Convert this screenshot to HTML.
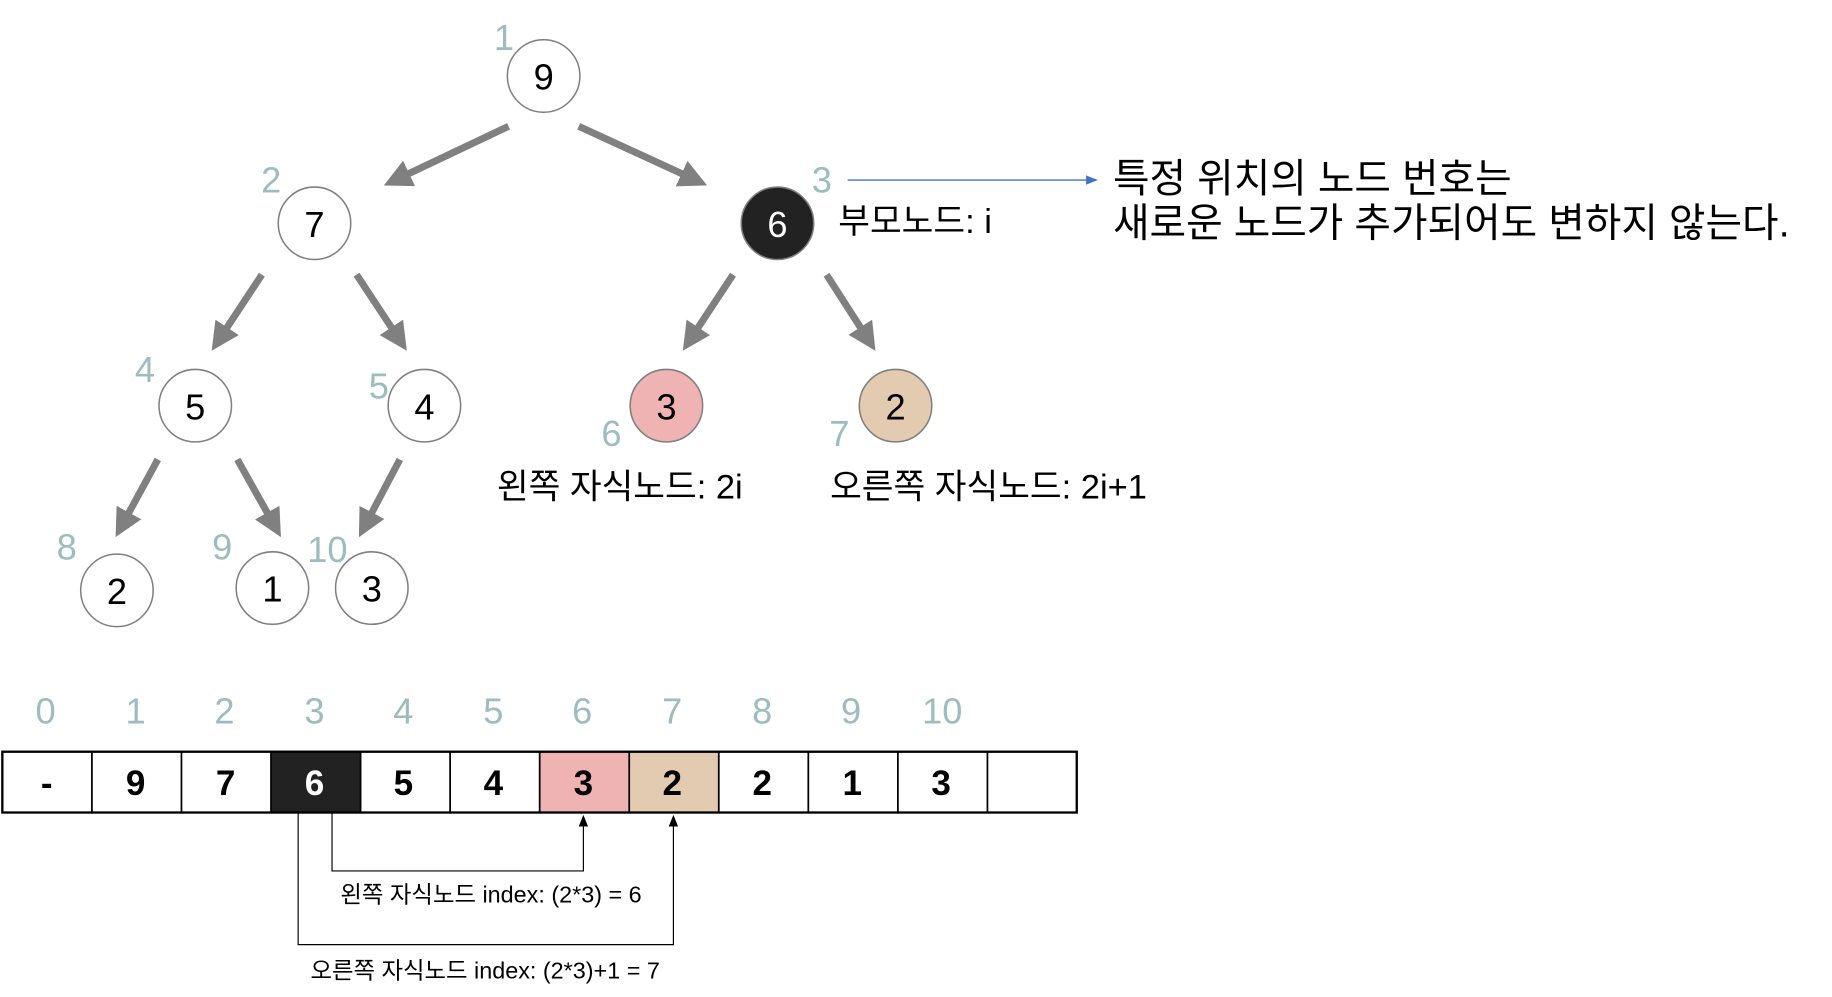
<!DOCTYPE html>
<html><head><meta charset="utf-8"><style>
html,body{margin:0;padding:0;background:#fff;width:1832px;height:997px;overflow:hidden}
svg{display:block}
text{font-family:"Liberation Sans","Noto Sans CJK KR","NanumGothic",sans-serif}
.idx{fill:#9dbcc0;font-size:31px;text-anchor:middle;dominant-baseline:central}
.nv{font-size:31px;text-anchor:middle;dominant-baseline:central}
.av{font-size:30px;font-weight:bold;text-anchor:middle;dominant-baseline:central}
.lbl{font-size:29.5px;dominant-baseline:central}
</style></head><body>
<svg width="1832" height="997" viewBox="0 0 1567 852.8" xmlns="http://www.w3.org/2000/svg">
<defs>
<marker id="ga" markerWidth="4" markerHeight="4" refX="2.2" refY="2" orient="auto" markerUnits="strokeWidth"><path d="M0,0 L4,2 L0,4 z" fill="#808080"/></marker>
<marker id="ba" markerWidth="10" markerHeight="10" refX="9" refY="5" orient="auto" markerUnits="userSpaceOnUse"><path d="M0,1 L10,5 L0,9 z" fill="#4472c4"/></marker>
</defs>
<g stroke="#808080" stroke-width="6" marker-end="url(#ga)">
<line x1="435" y1="108" x2="338" y2="154"/>
<line x1="495" y1="108" x2="595" y2="154"/>
<line x1="224" y1="235" x2="187" y2="291"/>
<line x1="305" y1="235" x2="342" y2="291"/>
<line x1="627" y1="235" x2="590" y2="291"/>
<line x1="707" y1="235" x2="743" y2="291"/>
<line x1="135" y1="393" x2="104" y2="450"/>
<line x1="203" y1="393" x2="235" y2="450"/>
<line x1="342" y1="393" x2="312" y2="450"/>
</g>
<g stroke="#7f7f7f" stroke-width="1.3">
<circle cx="465" cy="65" r="31" fill="#fff"/>
<circle cx="269" cy="191" r="31" fill="#fff"/>
<circle cx="665" cy="191" r="31" fill="#222"/>
<circle cx="167" cy="347" r="31" fill="#fff"/>
<circle cx="363" cy="347" r="31" fill="#fff"/>
<circle cx="570" cy="347" r="31" fill="#f0b3b3"/>
<circle cx="766" cy="347" r="31" fill="#e2cbb0"/>
<circle cx="100" cy="505" r="31" fill="#fff"/>
<circle cx="233" cy="503" r="31" fill="#fff"/>
<circle cx="318" cy="503" r="31" fill="#fff"/>
</g>
<text class="nv" x="465" y="66">9</text>
<text class="nv" x="269" y="192">7</text>
<text class="nv" x="665" y="192" fill="#fff">6</text>
<text class="nv" x="167" y="348">5</text>
<text class="nv" x="363" y="348">4</text>
<text class="nv" x="570" y="348">3</text>
<text class="nv" x="766" y="348">2</text>
<text class="nv" x="100" y="506">2</text>
<text class="nv" x="233" y="504">1</text>
<text class="nv" x="318" y="504">3</text>
<text class="idx" x="431" y="32">1</text>
<text class="idx" x="232" y="154">2</text>
<text class="idx" x="703" y="154">3</text>
<text class="idx" x="124" y="316">4</text>
<text class="idx" x="324" y="330">5</text>
<text class="idx" x="523" y="371">6</text>
<text class="idx" x="718" y="371">7</text>
<text class="idx" x="57" y="468">8</text>
<text class="idx" x="190" y="468">9</text>
<text class="idx" x="280" y="470">10</text>
<line x1="725" y1="154" x2="938" y2="154" stroke="#4472c4" stroke-width="1.2" marker-end="url(#ba)"/>
<text x="952" y="153" style="font-size:34px;dominant-baseline:central">특정 위치의 노드 번호는</text>
<text x="952" y="191" style="font-size:34px;dominant-baseline:central">새로운 노드가 추가되어도 변하지 않는다.</text>
<text class="lbl" x="717" y="190">부모노드: i</text>
<text class="lbl" x="425" y="417">왼쪽 자식노드: 2i</text>
<text class="lbl" x="710" y="417">오른쪽 자식노드: 2i+1</text>
<g>
<rect x="231.5" y="643" width="76.6" height="52" fill="#222"/>
<rect x="461.3" y="643" width="76.6" height="52" fill="#f0b3b3"/>
<rect x="537.9" y="643" width="76.6" height="52" fill="#e2cbb0"/>
<rect x="2" y="643" width="919" height="52" fill="none" stroke="#000" stroke-width="2"/>
<g stroke="#000" stroke-width="1.5">
<line x1="78.6" y1="643" x2="78.6" y2="695"/><line x1="155.2" y1="643" x2="155.2" y2="695"/>
<line x1="231.8" y1="643" x2="231.8" y2="695"/><line x1="308.4" y1="643" x2="308.4" y2="695"/>
<line x1="385" y1="643" x2="385" y2="695"/><line x1="461.6" y1="643" x2="461.6" y2="695"/>
<line x1="538.2" y1="643" x2="538.2" y2="695"/><line x1="614.8" y1="643" x2="614.8" y2="695"/>
<line x1="691.4" y1="643" x2="691.4" y2="695"/><line x1="768" y1="643" x2="768" y2="695"/>
<line x1="844.6" y1="643" x2="844.6" y2="695"/>
</g>
<text class="av" x="40" y="670">-</text>
<text class="av" x="116" y="670">9</text>
<text class="av" x="193" y="670">7</text>
<text class="av" x="269" y="670" fill="#fff">6</text>
<text class="av" x="345" y="670">5</text>
<text class="av" x="422" y="670">4</text>
<text class="av" x="499" y="670">3</text>
<text class="av" x="575" y="670">2</text>
<text class="av" x="652" y="670">2</text>
<text class="av" x="729" y="670">1</text>
<text class="av" x="805" y="670">3</text>
<text class="idx" x="39" y="608">0</text>
<text class="idx" x="116" y="608">1</text>
<text class="idx" x="192" y="608">2</text>
<text class="idx" x="269" y="608">3</text>
<text class="idx" x="345" y="608">4</text>
<text class="idx" x="422" y="608">5</text>
<text class="idx" x="498" y="608">6</text>
<text class="idx" x="575" y="608">7</text>
<text class="idx" x="652" y="608">8</text>
<text class="idx" x="728" y="608">9</text>
<text class="idx" x="806" y="608">10</text>
</g>
<polyline points="284,695 284,745 499,745 499,705" fill="none" stroke="#000" stroke-width="1"/>
<polygon points="495,707 499,697 503,707" fill="#000"/>
<polyline points="255,695 255,808 576,808 576,705" fill="none" stroke="#000" stroke-width="1"/>
<polygon points="572,707 576,697 580,707" fill="#000"/>
<text x="420" y="765" style="font-size:20px;text-anchor:middle;dominant-baseline:central">왼쪽 자식노드 index: (2*3) = 6</text>
<text x="415" y="830" style="font-size:20px;text-anchor:middle;dominant-baseline:central">오른쪽 자식노드 index: (2*3)+1 = 7</text>
</svg>
</body></html>
